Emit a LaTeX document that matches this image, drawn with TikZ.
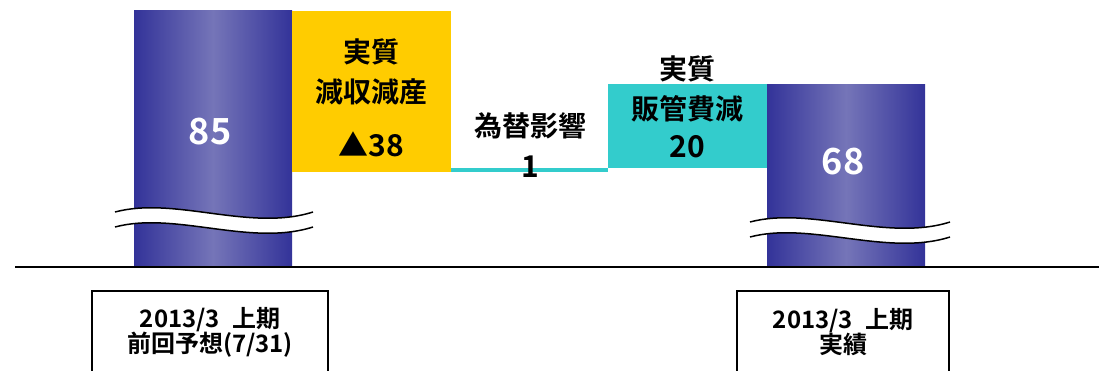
\documentclass[tikz,border=0pt]{standalone}
\usepackage{fontspec}
\setmainfont{Noto Sans CJK JP}[BoldFont=* Bold]
\definecolor{barblue}{RGB}{51,51,153}
\definecolor{barlight}{RGB}{117,117,184}
\definecolor{cutgold}{RGB}{255,204,0}
\definecolor{cuttea}{RGB}{51,204,204}
\begin{document}
\begin{tikzpicture}[x=1pt,y=-1pt,
        bar/.style={left color=barblue,right color=barblue,middle color=barlight},
        total/.style={text=white,inner sep=0pt,font=\bfseries\fontsize{36}{36}\selectfont},
        stepname/.style={inner sep=0pt,align=center,font=\bfseries\fontsize{28}{40}\selectfont},
        stepval/.style={inner sep=0pt,font=\bfseries\fontsize{30}{30}\selectfont},
        period/.style={draw,line width=1.2pt,inner sep=0pt,align=center,minimum height=82,
            font=\bfseries\fontsize{24}{25}\selectfont}]
    \clip (0,0) rectangle (1099,371);
    \useasboundingbox (0,0) rectangle (1099,371);
    % bars and steps
    \path[bar] (134,11) rectangle (292,266);
    \path[bar] (767,85) rectangle (925,266);
    \fill[cutgold] (292,11) rectangle (451,172);
    \fill[cuttea] (451,168) rectangle (608,172);
    \fill[cuttea] (608,84) rectangle (767,168);
    % breaks
    \foreach \xa/\xb/\yb in {115/313/212, 750/950/222} {
        \fill[white] (\xa,\yb) .. controls (\xa+60,\yb-16) and (\xb-63,\yb+20) .. (\xb,\yb)
            -- (\xb,\yb+15) .. controls (\xb-63,\yb+35) and (\xa+60,\yb-1) .. (\xa,\yb+15) -- cycle;
        \draw[line width=1.5pt] (\xa,\yb) .. controls (\xa+60,\yb-16) and (\xb-63,\yb+20) .. (\xb,\yb);
        \draw[line width=1.5pt] (\xa,\yb+15) .. controls (\xa+60,\yb-1) and (\xb-63,\yb+35) .. (\xb,\yb+15);
    }
    \draw[line width=1.5pt] (15,267) -- (1099,267);
    % labels
    \node[total] (prev) at (210,132) {85};
    \node[total] (act) at (843,162) {68};
    \node[stepname] (sales) at (371.5,72) {実質\\減収減産};
    \node[stepval] (salesv) at (371.5,144) {▲38};
    \node[stepname] (fx) at (530,126) {為替影響};
    \node[stepval] (fxv) at (530,167) {1};
    \node[stepname] (sga) at (687.5,88.5) {実質\\販管費減};
    \node[stepval] (sgav) at (687.5,147) {20};
    \node[period,minimum width=236] (plan) at (210,332) {2013/3\enspace 上期\\前回予想(7/31)};
    \node[period,minimum width=212] (result) at (843,332) {2013/3\enspace 上期\\実績};
\end{tikzpicture}
\end{document}
